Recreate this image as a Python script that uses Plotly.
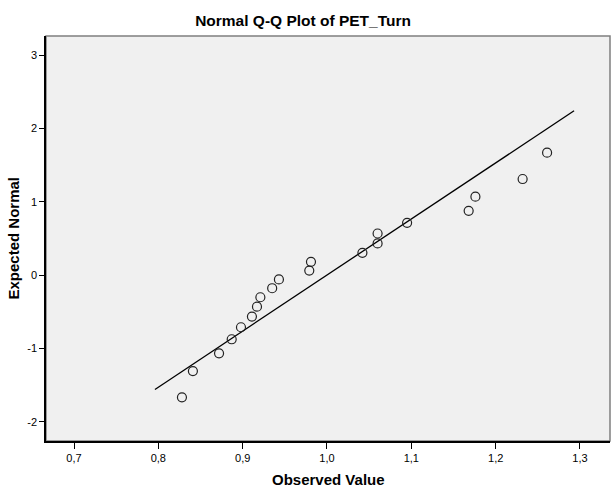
import plotly.graph_objects as go

observed = [0.828, 0.841, 0.872, 0.887, 0.898, 0.911, 0.917, 0.921, 0.935, 0.943,
            0.979, 0.981, 1.042, 1.060, 1.060, 1.095, 1.168, 1.176, 1.232, 1.261]
expected = [-1.668, -1.309, -1.068, -0.876, -0.712, -0.566, -0.431, -0.303, -0.180, -0.060,
            0.060, 0.180, 0.303, 0.431, 0.566, 0.712, 0.876, 1.068, 1.309, 1.668]

# Reference line endpoints
line_x = [0.796, 1.293]
line_y = [-1.56, 2.24]

x_ticks = [0.7, 0.8, 0.9, 1.0, 1.1, 1.2, 1.3]
x_tick_labels = ["0,7", "0,8", "0,9", "1,0", "1,1", "1,2", "1,3"]
y_ticks = [-2, -1, 0, 1, 2, 3]
y_tick_labels = ["-2", "-1", "0", "1", "2", "3"]

FONT = "Liberation Sans, Arial, sans-serif"

fig = go.Figure()
fig.add_trace(go.Scatter(x=line_x, y=line_y, mode="lines",
                         line=dict(color="#000000", width=1.3),
                         hoverinfo="skip", showlegend=False))
fig.add_trace(go.Scatter(x=observed, y=expected, mode="markers",
                         marker=dict(symbol="circle-open", size=9,
                                     color="#222222", line=dict(width=1.2)),
                         showlegend=False))

fig.update_layout(
    width=616, height=490,
    margin=dict(l=46, r=6, t=36, b=49),
    paper_bgcolor="#FFFFFF",
    plot_bgcolor="#F0F0F0",
    font=dict(family=FONT, color="#000000", size=11),
    title=dict(text="<b>Normal Q-Q Plot of PET_Turn</b>", x=0.492, xanchor="center",
               y=0.959, yanchor="middle",
               font=dict(family=FONT, size=15.5, color="#000000")),
    shapes=[dict(type="rect", xref="paper", yref="paper", x0=0, x1=1, y0=0, y1=1,
                 line=dict(color="#7F7F7F", width=1.5), layer="below")],
    annotations=[
        dict(text="<b>Observed Value</b>", xref="paper", yref="paper", x=0.5, y=0,
             xanchor="center", yanchor="middle", yshift=-38, showarrow=False,
             font=dict(family=FONT, size=15, color="#000000")),
        dict(text="<b>Expected Normal</b>", xref="paper", yref="paper", x=0, y=0.5,
             xanchor="center", yanchor="middle", xshift=-33, textangle=-90,
             showarrow=False, font=dict(family=FONT, size=15, color="#000000")),
    ],
)
fig.update_xaxes(range=[0.6668, 1.3356], tickvals=x_ticks, ticktext=x_tick_labels,
                 showgrid=False, zeroline=False, showline=True, linecolor="#000000",
                 linewidth=1.5, ticks="outside", ticklen=6, tickcolor="#000000",
                 tickfont=dict(size=11, family=FONT))
fig.update_yaxes(range=[-2.263, 3.259], tickvals=y_ticks, ticktext=y_tick_labels,
                 showgrid=False, zeroline=False, showline=True, linecolor="#000000",
                 linewidth=1.5, ticks="outside", ticklen=5, tickcolor="#000000",
                 tickfont=dict(size=11, family=FONT))

fig.write_html("out.html", config={"displayModeBar": False},
               post_script="document.body.style.margin='0';document.body.style.padding='0';")
